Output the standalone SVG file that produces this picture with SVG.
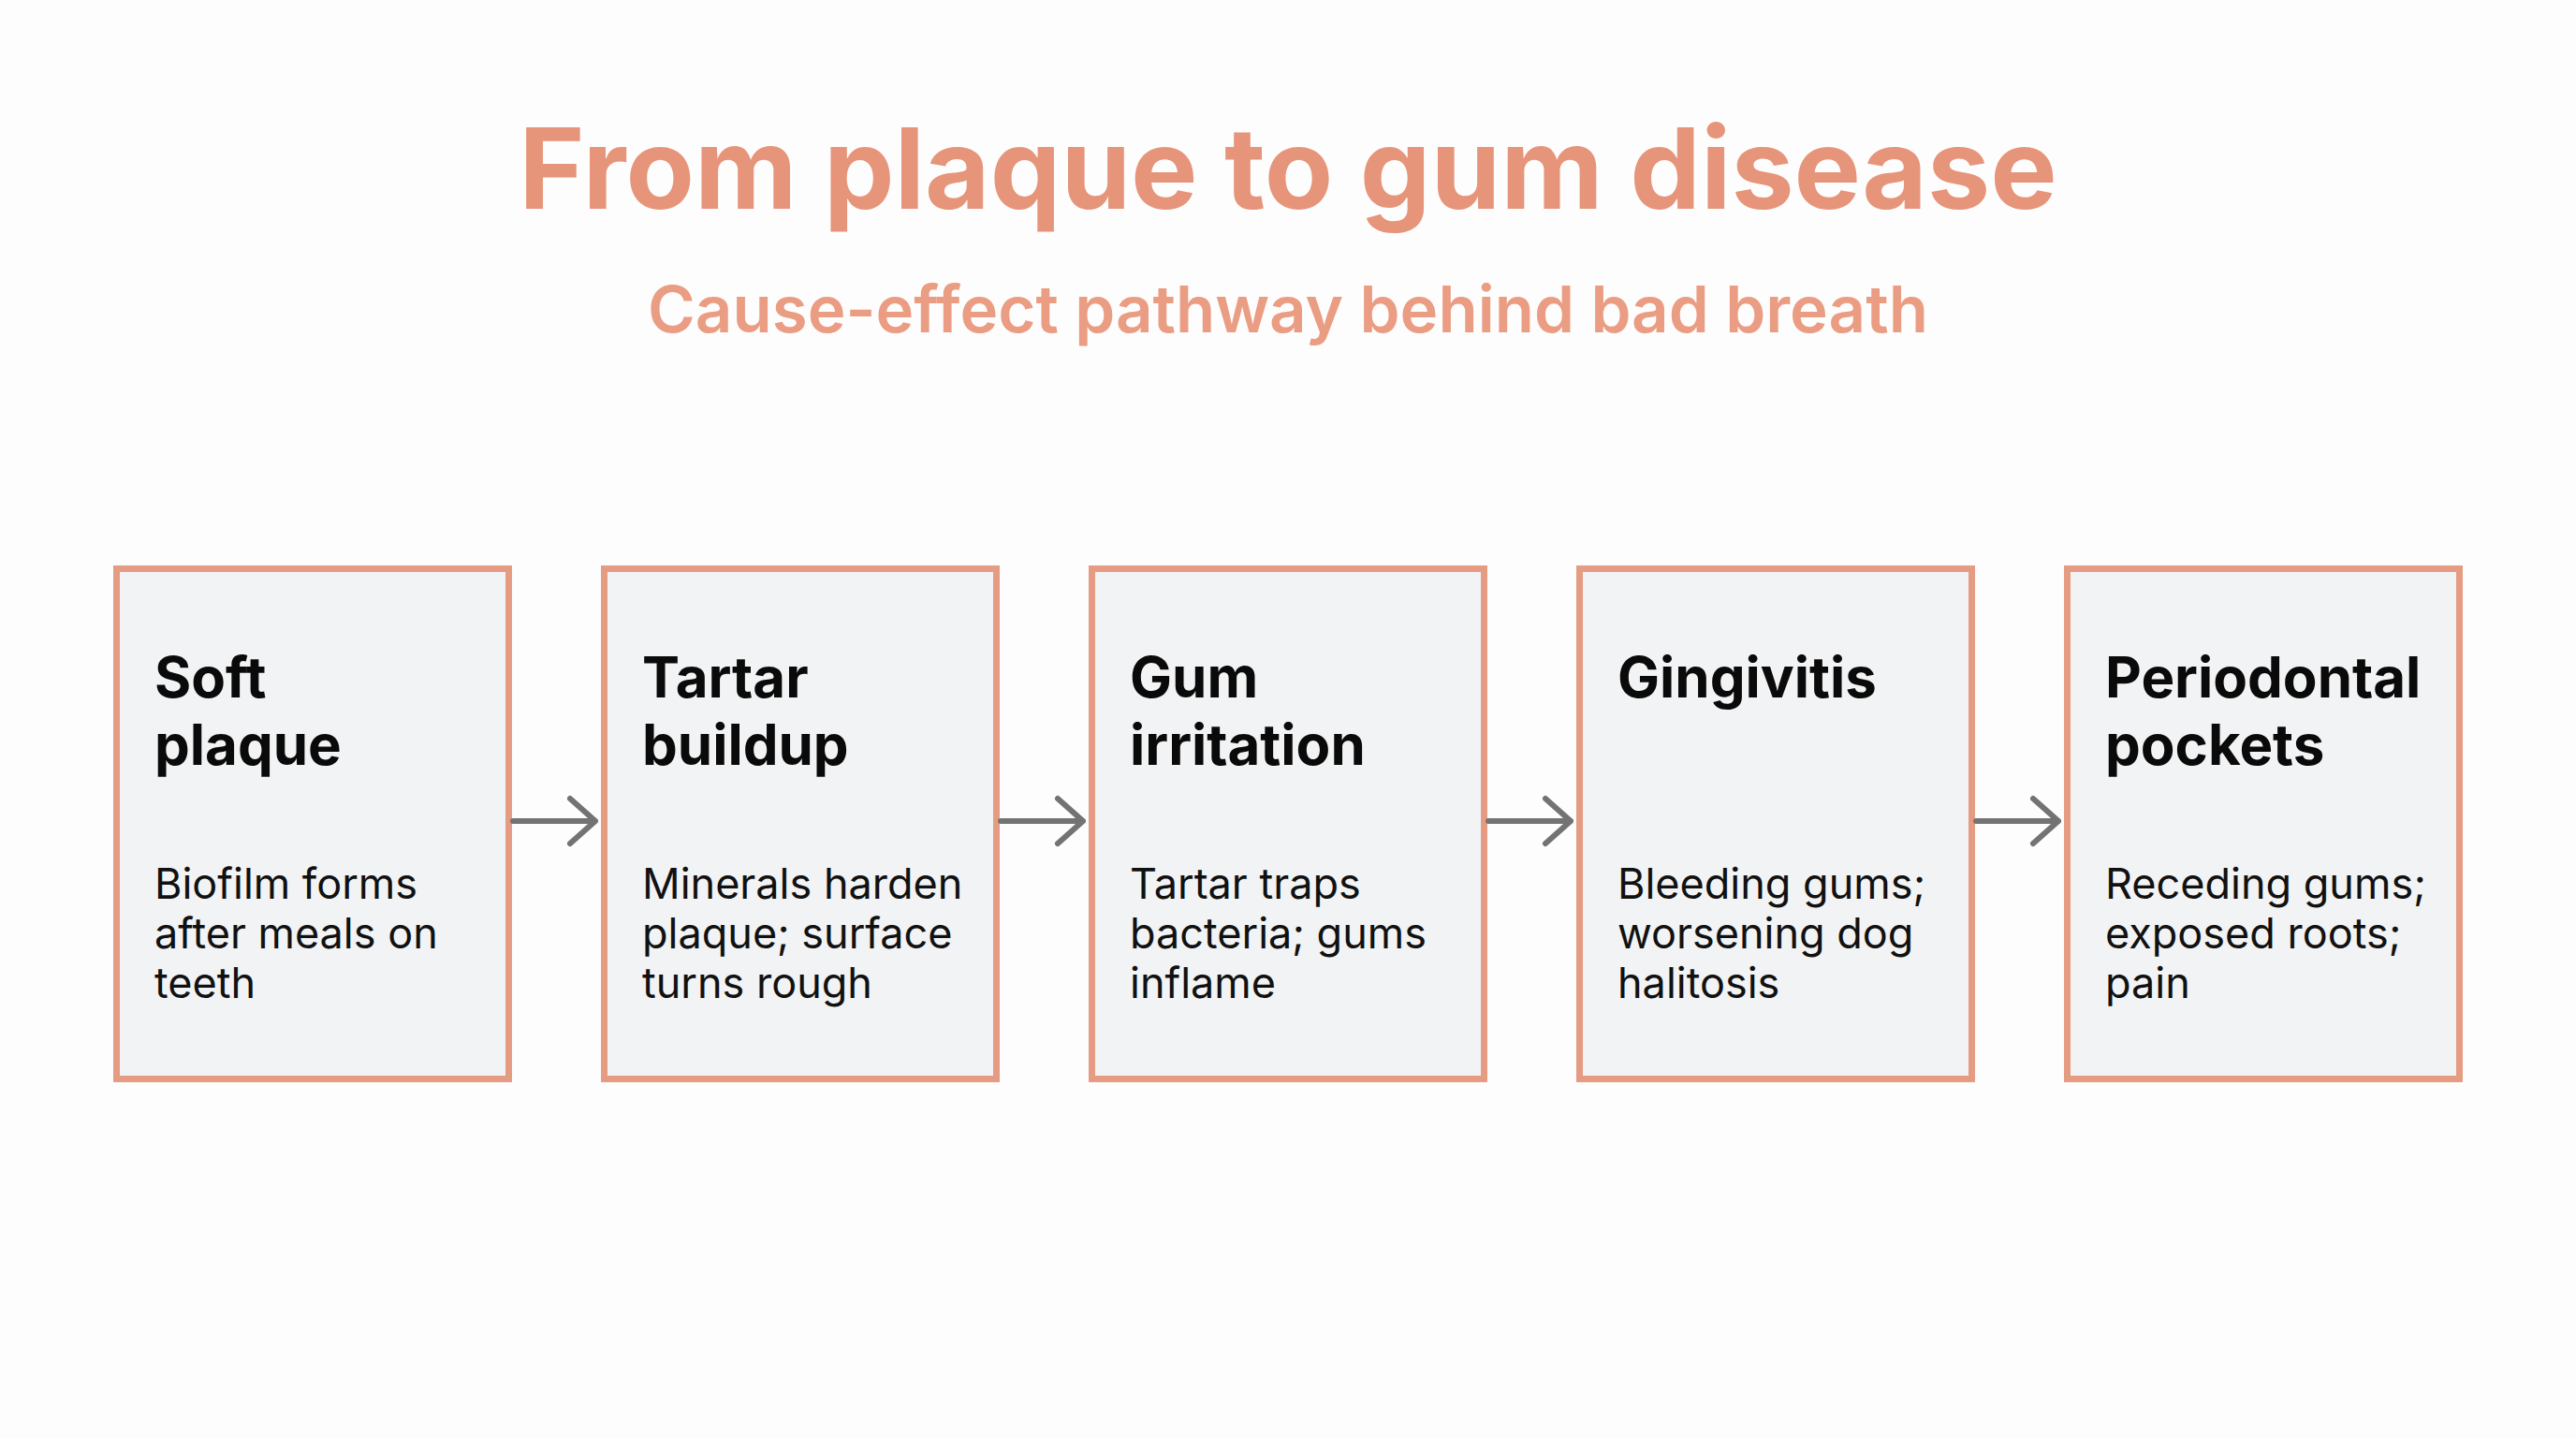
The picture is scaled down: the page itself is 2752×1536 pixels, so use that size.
<svg xmlns="http://www.w3.org/2000/svg" width="2752" height="1536" viewBox="0 0 2752 1536">
<style>
.bg{fill:#FDFDFD}
.box{fill:#F2F3F4;stroke:#E59C82;stroke-width:7}
.title{font-family:Inter,"Liberation Sans",sans-serif;font-weight:700;font-size:120px;fill:#E6957A}
.sub{font-family:Inter,"Liberation Sans",sans-serif;font-weight:600;font-size:69px;fill:#EA9D83}
.h{font-family:Inter,"Liberation Sans",sans-serif;font-weight:700;font-size:60px;fill:#0A0A0A}
.b{font-family:Inter,"Liberation Sans",sans-serif;font-weight:400;font-size:45px;fill:#111111}
.arr{fill:none;stroke:#737373;stroke-width:6;stroke-linecap:round;stroke-linejoin:round}
</style>
<rect class="bg" x="0" y="0" width="2752" height="1536"/>
<g id="header">
<text class="title" x="1376" y="223" text-anchor="middle">From plaque to gum disease</text>
<text class="sub" x="1376" y="355" text-anchor="middle">Cause-effect pathway behind bad breath</text>
</g>
<g id="node1">
<rect class="box" x="124.5" y="607.5" width="419" height="545"/>
<text class="h" x="165" y="745">Soft</text>
<text class="h" x="165" y="817">plaque</text>
<text class="b" x="165" y="960">Biofilm forms</text>
<text class="b" x="165" y="1013">after meals on</text>
<text class="b" x="165" y="1066">teeth</text>
</g>
<g id="node2">
<rect class="box" x="645.5" y="607.5" width="419" height="545"/>
<text class="h" x="686" y="745">Tartar</text>
<text class="h" x="686" y="817">buildup</text>
<text class="b" x="686" y="960">Minerals harden</text>
<text class="b" x="686" y="1013">plaque; surface</text>
<text class="b" x="686" y="1066">turns rough</text>
</g>
<g id="node3">
<rect class="box" x="1166.5" y="607.5" width="419" height="545"/>
<text class="h" x="1207" y="745">Gum</text>
<text class="h" x="1207" y="817">irritation</text>
<text class="b" x="1207" y="960">Tartar traps</text>
<text class="b" x="1207" y="1013">bacteria; gums</text>
<text class="b" x="1207" y="1066">inflame</text>
</g>
<g id="node4">
<rect class="box" x="1687.5" y="607.5" width="419" height="545"/>
<text class="h" x="1728" y="745">Gingivitis</text>
<text class="b" x="1728" y="960">Bleeding gums;</text>
<text class="b" x="1728" y="1013">worsening dog</text>
<text class="b" x="1728" y="1066">halitosis</text>
</g>
<g id="node5">
<rect class="box" x="2208.5" y="607.5" width="419" height="545"/>
<text class="h" x="2249" y="745">Periodontal</text>
<text class="h" x="2249" y="817">pockets</text>
<text class="b" x="2249" y="960">Receding gums;</text>
<text class="b" x="2249" y="1013">exposed roots;</text>
<text class="b" x="2249" y="1066">pain</text>
</g>
<g id="connectors">
<path class="arr" d="M548 877H636M609 853L636 877L609 901"/>
<path class="arr" d="M1069 877H1157M1130 853L1157 877L1130 901"/>
<path class="arr" d="M1590 877H1678M1651 853L1678 877L1651 901"/>
<path class="arr" d="M2111 877H2199M2172 853L2199 877L2172 901"/>
</g>
</svg>
